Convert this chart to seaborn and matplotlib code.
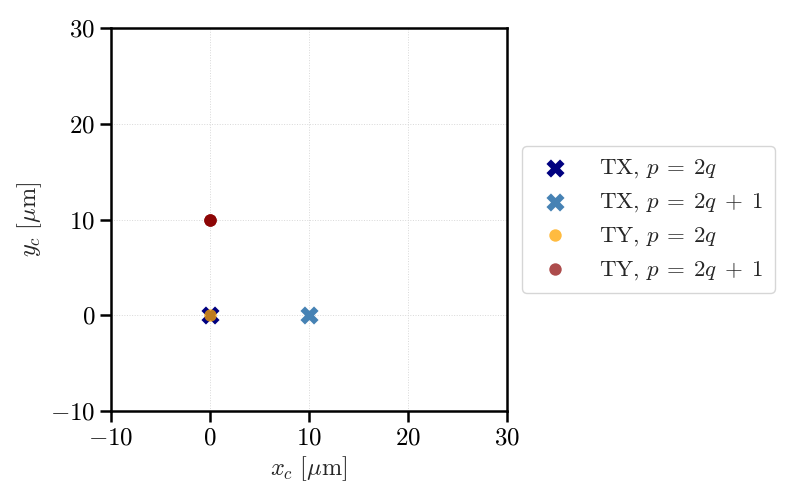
import matplotlib
matplotlib.use("Agg")
import matplotlib.pyplot as plt
import seaborn as sns
import pandas as pd

# lattice positions (um); TY p=2q+1 point repeated (overlapping sites)
tx_even_x = [0]
tx_even_y = [0]
tx_odd_x = [10]
tx_odd_y = [0]
ty_even_x = [0]
ty_even_y = [0]
ty_odd_x = [0, 0, 0]
ty_odd_y = [10, 10, 10]

labels = [r"TX, $p\:=\:2q$", r"TX, $p\:=\:2q\;+\;1$",
          r"TY, $p\:=\:2q$", r"TY, $p\:=\:2q\;+\;1$"]
colors = ["navy", "steelblue", "#ffa500", "darkred"]

sns.set_style("ticks")
plt.rcParams["font.family"] = ["cmr10", "DejaVu Serif"]
plt.rcParams["mathtext.fontset"] = "cm"
plt.rcParams["axes.formatter.use_mathtext"] = True
plt.rcParams["axes.unicode_minus"] = True

fig = plt.figure(figsize=(7.87, 5.04), dpi=100)
ax = fig.add_axes([111/787, 93/504, 396/787, 383/504])

sns.scatterplot(x=tx_even_x, y=tx_even_y, marker="X", s=170, color=colors[0],
                linewidth=0, label=labels[0], ax=ax, zorder=3)
sns.scatterplot(x=tx_odd_x, y=tx_odd_y, marker="X", s=170, color=colors[1],
                linewidth=0, label=labels[1], ax=ax, zorder=3)
sns.scatterplot(x=ty_even_x, y=ty_even_y, marker="o", s=80, color=colors[2],
                alpha=0.75, linewidth=0, label=labels[2], ax=ax, zorder=4)
sns.scatterplot(x=ty_odd_x, y=ty_odd_y, marker="o", s=80, color=colors[3],
                alpha=0.7, linewidth=0, label=labels[3], ax=ax, zorder=4)

ax.set_xlim(-10, 30)
ax.set_ylim(-10, 30)
ax.set_xticks([-10, 0, 10, 20, 30])
ax.set_yticks([-10, 0, 10, 20, 30])
ax.grid(True, color="#d8d8d8", linestyle=":", linewidth=0.7)
ax.set_axisbelow(True)
for sp in ax.spines.values():
    sp.set_linewidth(1.8)
    sp.set_color("black")
ax.tick_params(axis="both", length=8, width=1.8, labelsize=18, colors="black")
ax.set_xlabel(r"$x_c\ [\mu\mathrm{m}]$", fontsize=17.5)
ax.set_ylabel(r"$y_c\ [\mu\mathrm{m}]$", fontsize=17.5)

ax.legend(loc="center left", bbox_to_anchor=(1.01, 0.5), fontsize=16.5,
          handletextpad=1.05, borderpad=0.5, labelspacing=0.48,
          handlelength=1.8, frameon=True, fancybox=True)

fig.savefig("out.png", dpi=100)
